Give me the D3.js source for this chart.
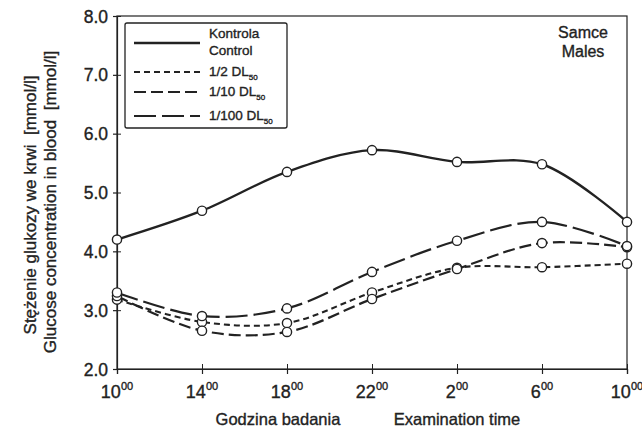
<!DOCTYPE html>
<html>
<head>
<meta charset="utf-8">
<script src="https://cdn.jsdelivr.net/npm/d3@7"></script>
<style>
  body { margin: 0; background: #fff; }
  svg { font-family: "Liberation Sans", Arial, sans-serif; }
  svg text { stroke: #222; stroke-width: 0.35px; }
  .tick line, .domain { stroke: #222; }
</style>
</head>
<body>
<svg id="chart" width="642" height="433"></svg>
<script>
// hours of examination (main part + superscript)
const hours = ["10", "14", "18", "22", "2", "6", "10"];
const yTicks = [2, 3, 4, 5, 6, 7, 8];

// glucose concentration [mmol/l]
const control = [4.2, 4.69, 5.35, 5.72, 5.52, 5.48, 4.5];
const half = [3.18, 2.8, 2.78, 3.3, 3.72, 3.73, 3.79];
const tenth = [3.24, 2.65, 2.63, 3.19, 3.7, 4.14, 4.07];
const hundredth = [3.3, 2.9, 3.03, 3.65, 4.18, 4.5, 4.09];

const series = [
  { name: "control", values: control, dash: null, width: 2.4 },
  { name: "half", values: half, dash: "6,4", width: 2.1 },
  { name: "tenth", values: tenth, dash: "12,5", width: 2.2 },
  { name: "hundredth", values: hundredth, dash: "22,6", width: 2.2 }
];

const svg = d3.select("#chart");
const ink = "#222";

const x = d3.scaleLinear().domain([0, hours.length - 1]).range([117, 627]);
const y = d3.scaleLinear().domain([2, 8]).range([369, 16]);

// frame
svg.append("rect")
  .attr("x", x(0)).attr("y", y(8))
  .attr("width", x(6) - x(0)).attr("height", y(2) - y(8))
  .attr("fill", "none").attr("stroke", ink).attr("stroke-width", 1.2);

// y axis (ticks crossing the line)
const yAxis = svg.append("g")
  .attr("transform", `translate(${x(0)},0)`)
  .call(d3.axisLeft(y).tickValues(yTicks).tickSize(4).tickPadding(5).tickFormat(d3.format(".1f")));
svg.append("g")
  .attr("transform", `translate(${x(0)},0)`)
  .call(d3.axisRight(y).tickValues(yTicks).tickSize(4).tickFormat(""))
  .select(".domain").remove();
yAxis.selectAll("text").attr("font-size", 17.5).attr("fill", ink).attr("dy", "0.35em");
yAxis.selectAll("line, path").attr("stroke-width", 1.2);

// x axis
const idx = d3.range(hours.length);
const xAxis = svg.append("g")
  .attr("transform", `translate(0,${y(2)})`)
  .call(d3.axisBottom(x).tickValues(idx).tickSize(5).tickFormat(""));
svg.append("g")
  .attr("transform", `translate(0,${y(2)})`)
  .call(d3.axisTop(x).tickValues(idx).tickSize(5).tickFormat(""))
  .select(".domain").remove();
xAxis.selectAll("line, path").attr("stroke-width", 1.2);

const xl = svg.append("g").attr("fill", ink);
idx.forEach(i => {
  const t = xl.append("text")
    .attr("x", x(i)).attr("y", 398)
    .attr("text-anchor", "middle").attr("font-size", 18);
  t.append("tspan").text(hours[i]);
  t.append("tspan").attr("font-size", 11).attr("dy", -8).text("00");
});

svg.append("text").attr("x", 278).attr("y", 425).attr("text-anchor", "middle")
  .attr("font-size", 16.5).attr("fill", ink).text("Godzina badania");
svg.append("text").attr("x", 457).attr("y", 425).attr("text-anchor", "middle")
  .attr("font-size", 16.5).attr("fill", ink).text("Examination time");

// y titles
svg.append("text").attr("transform", "translate(36,205) rotate(-90)")
  .attr("text-anchor", "middle").attr("font-size", 17).attr("fill", ink)
  .attr("xml:space", "preserve")
  .text("Stężenie glukozy we krwi  [mmol/l]");
svg.append("text").attr("transform", "translate(56,202) rotate(-90)")
  .attr("text-anchor", "middle").attr("font-size", 17).attr("fill", ink)
  .attr("xml:space", "preserve")
  .text("Glucose concentration in blood  [mmol/l]");

// lines
const line = d3.line()
  .x((d, i) => x(i))
  .y(d => y(d))
  .curve(d3.curveCatmullRom.alpha(0.5));

series.forEach(s => {
  svg.append("path")
    .datum(s.values)
    .attr("d", line)
    .attr("fill", "none")
    .attr("stroke", ink)
    .attr("stroke-width", s.width)
    .attr("stroke-dasharray", s.dash);
});

series.forEach(s => {
  svg.append("g").selectAll("circle")
    .data(s.values)
    .join("circle")
    .attr("cx", (d, i) => x(i))
    .attr("cy", d => y(d))
    .attr("r", 4.6)
    .attr("fill", "#fff")
    .attr("stroke", ink)
    .attr("stroke-width", 1.4);
});

// legend
const lg = svg.append("g");
lg.append("rect").attr("x", 125).attr("y", 23).attr("width", 162).attr("height", 105)
  .attr("rx", 2).attr("fill", "#fff").attr("stroke", ink).attr("stroke-width", 1.3);

const legendRows = [
  { s: series[0], y: 43, label: null },
  { s: series[1], y: 72, label: "1/2 DL" },
  { s: series[2], y: 92, label: "1/10 DL" },
  { s: series[3], y: 116, label: "1/100 DL" }
];
legendRows.forEach(r => {
  lg.append("line")
    .attr("x1", 134).attr("x2", 200).attr("y1", r.y).attr("y2", r.y)
    .attr("stroke", ink).attr("stroke-width", r.s.width)
    .attr("stroke-dasharray", r.s.dash);
  if (r.label) {
    const t = lg.append("text").attr("x", 209).attr("y", r.y + 4)
      .attr("font-size", 13.5).attr("fill", ink);
    t.append("tspan").text(r.label);
    t.append("tspan").attr("font-size", 8).attr("dy", 4).text("50");
  }
});
lg.append("text").attr("x", 209).attr("y", 38).attr("font-size", 13.5).attr("fill", ink).text("Kontrola");
lg.append("text").attr("x", 209).attr("y", 55).attr("font-size", 13.5).attr("fill", ink).text("Control");

// group label
svg.append("text").attr("x", 583).attr("y", 38).attr("text-anchor", "middle")
  .attr("font-size", 16).attr("fill", ink).text("Samce");
svg.append("text").attr("x", 583).attr("y", 57).attr("text-anchor", "middle")
  .attr("font-size", 16).attr("fill", ink).text("Males");
</script>
</body>
</html>
